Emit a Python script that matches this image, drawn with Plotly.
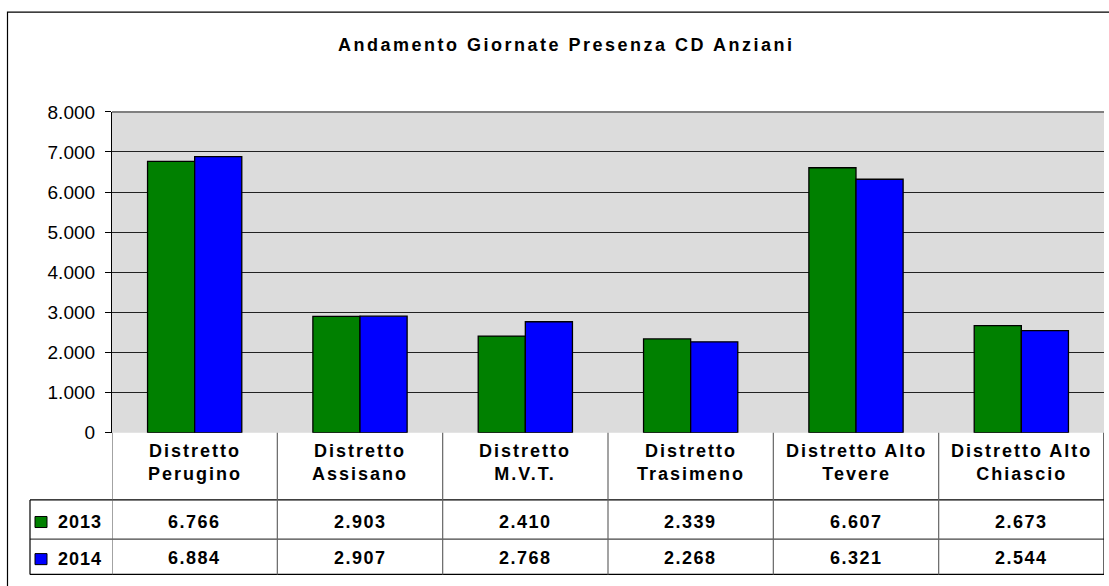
import plotly.graph_objects as go

# dati
distretti = [("Distretto", "Perugino"), ("Distretto", "Assisano"), ("Distretto", "M.V.T."),
             ("Distretto", "Trasimeno"), ("Distretto Alto", "Tevere"), ("Distretto Alto", "Chiascio")]
anni = ["2013", "2014"]
val_2013 = [6766, 2903, 2410, 2339, 6607, 2673]
val_2014 = [6884, 2907, 2768, 2268, 6321, 2544]
colori = ["#008000", "#0000FF"]
titolo = "Andamento Giornate Presenza CD Anziani"

W, H = 1109, 586
# correzione verticale misurata sulla foto della pagina
SY, OY = 0.9615, 10.4


def px(x):
    return x / W


def py(y):
    return 1 - ((y - OY) / SY) / H


def fmt(v):
    return f"{v:,}".replace(",", ".")


def sp(t, ls):
    return f"<span style='letter-spacing:{ls}px'><b>{t}</b></span>"


FONT = "Liberation Sans, Arial"
font_b = dict(family=FONT, size=18, color="black")

fig = go.Figure()
for anno, vals, col in zip(anni, [val_2013, val_2014], colori):
    fig.add_trace(go.Bar(
        x=list(range(len(distretti))),
        y=vals,
        name=anno,
        marker=dict(color=col, line=dict(color="black", width=1.3)),
        showlegend=False,
    ))

shapes = []
annotations = []

# cornice esterna
shapes.append(dict(type="rect", xref="paper", yref="paper",
                   x0=px(7.5), x1=px(1130), y0=-0.1, y1=py(12.5),
                   line=dict(color="black", width=1.2)))

# tabella dati: linee orizzontali
tab_top, tab_r1, tab_r2, tab_bot = 432, 499, 538, 573.3
for yy, c in [(tab_r1, "black"), (tab_r2, "#444444"), (tab_bot, "black")]:
    shapes.append(dict(type="line", xref="paper", yref="paper",
                       x0=px(30), x1=px(1104), y0=py(yy), y1=py(yy),
                       line=dict(color=c, width=1.2)))
shapes.append(dict(type="line", xref="paper", yref="paper",
                   x0=px(30), x1=px(30), y0=py(tab_r1), y1=py(tab_bot),
                   line=dict(color="black", width=1.2)))
# linee verticali tra categorie (coordinate dell'asse x)
for i in range(len(distretti) + 1):
    c = "black" if i == len(distretti) else "#666666"
    shapes.append(dict(type="line", xref="x", yref="paper",
                       x0=i - 0.5, x1=i - 0.5, y0=py(tab_top), y1=py(tab_bot),
                       line=dict(color=c, width=1.2)))

# intestazioni e valori
for i, (l1, l2) in enumerate(distretti):
    annotations.append(dict(x=i, xref="x", y=py(462), yref="paper", yanchor="middle",
                            text=sp(l1, 2) + "<br>" + sp(l2, 2),
                            showarrow=False, font=font_b, align="center"))
    for vals, yy in [(val_2013, 520.5), (val_2014, 557)]:
        annotations.append(dict(x=i, xref="x", y=py(yy), yref="paper", yanchor="middle",
                                text=sp(fmt(vals[i]), 1.5), showarrow=False, font=font_b))

# chiavi legenda
for anno, col, yy in [(anni[0], colori[0], 521), (anni[1], colori[1], 558)]:
    shapes.append(dict(type="rect", xref="paper", yref="paper",
                       x0=px(35), x1=px(47), y0=py(yy + 5.5), y1=py(yy - 5.5),
                       fillcolor=col, line=dict(color="black", width=1)))
    annotations.append(dict(x=px(56), xref="paper", y=py(yy), yref="paper", yanchor="middle",
                            text=sp(anno, 1), showarrow=False, font=font_b, xanchor="left"))

# titolo
annotations.append(dict(x=px(566), xref="paper", y=py(45), yref="paper", yanchor="middle",
                        text=sp(titolo, 2.5), showarrow=False, font=font_b))

# bordo superiore area grafico
shapes.append(dict(type="line", xref="paper", yref="paper",
                   x0=px(112), x1=px(1104), y0=py(112), y1=py(112),
                   line=dict(color="#808080", width=2)))

fig.update_layout(
    width=W, height=H,
    margin=dict(l=0, r=0, t=0, b=0),
    paper_bgcolor="white",
    plot_bgcolor="#DCDCDC",
    barmode="group",
    bargap=0.43,
    bargroupgap=0,
    separators=",.",
    xaxis=dict(domain=[px(112), px(1104)], range=[-0.5, len(distretti) - 0.5],
               showticklabels=False, showgrid=False, zeroline=False, fixedrange=True),
    yaxis=dict(domain=[py(432), py(112)], range=[0, 8000], dtick=1000,
               tickformat=",d", showgrid=True, gridcolor="#222222", gridwidth=1,
               zeroline=False, showline=True, linecolor="black", linewidth=1.2,
               ticks="outside", ticklen=6, tickcolor="black", ticklabelstandoff=6,
               tickfont=dict(family=FONT, size=19, color="black")),
    shapes=shapes,
    annotations=annotations,
)

# la pagina ha un margine predefinito di 8px: lo azzeriamo
fig.write_html("out.html", config={"displayModeBar": False},
               post_script="document.body.style.margin='0';"
               "document.documentElement.style.overflow='hidden';")
